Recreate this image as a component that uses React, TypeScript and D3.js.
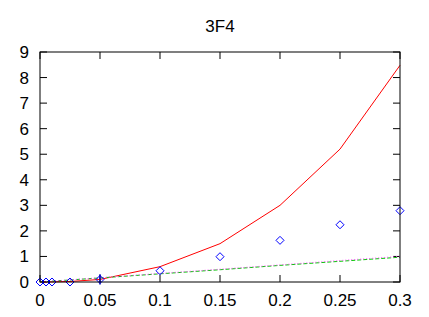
import * as d3 from "d3";
import { useEffect, useRef } from "react";

const title = "3F4";
const xs = [0, 0.005, 0.01, 0.025, 0.05, 0.1, 0.15, 0.2, 0.25, 0.3];
const redLine = [0, 0.002, 0.005, 0.02, 0.1, 0.6, 1.5, 3.0, 5.2, 8.48];
const greenLine = [0, 0.016, 0.032, 0.08, 0.16, 0.32, 0.48, 0.65, 0.81, 0.97];
const magentaLine = [0, 0.017, 0.034, 0.084, 0.168, 0.335, 0.5, 0.67, 0.84, 1.0];
const diamonds = [0, 0, 0, 0, 0.1, 0.44, 0.99, 1.63, 2.24, 2.79];
const xTicks = [0, 0.05, 0.1, 0.15, 0.2, 0.25, 0.3];
const yTicks = [0, 1, 2, 3, 4, 5, 6, 7, 8, 9];

const W = 429;
const H = 317;
const margin = { top: 52, right: 29, bottom: 35, left: 40 };

export default function App() {
  const ref = useRef<SVGSVGElement>(null);

  useEffect(() => {
    const svg = d3.select(ref.current);
    svg.selectAll("*").remove();

    const x = d3
      .scaleLinear()
      .domain([0, 0.3])
      .range([margin.left, W - margin.right]);
    const y = d3
      .scaleLinear()
      .domain([0, 9])
      .range([H - margin.bottom, margin.top]);

    const font = "Liberation Sans, Arial, sans-serif";
    const fs = 17;

    svg
      .append("text")
      .attr("x", (x(0) + x(0.3)) / 2)
      .attr("y", 32)
      .attr("text-anchor", "middle")
      .attr("font-family", font)
      .attr("font-size", fs)
      .text(title);

    const g = svg.append("g");
    const tickLen = 7;

    // tick marks on all four sides, pointing inward
    g.selectAll("line.xt")
      .data(xTicks)
      .join("line")
      .attr("class", "xt")
      .attr("x1", (d) => x(d))
      .attr("x2", (d) => x(d))
      .attr("y1", y(0))
      .attr("y2", y(0) - tickLen)
      .attr("stroke", "#000");
    g.selectAll("line.xt2")
      .data(xTicks)
      .join("line")
      .attr("class", "xt2")
      .attr("x1", (d) => x(d))
      .attr("x2", (d) => x(d))
      .attr("y1", y(9))
      .attr("y2", y(9) + tickLen)
      .attr("stroke", "#000");
    g.selectAll("line.yt")
      .data(yTicks)
      .join("line")
      .attr("class", "yt")
      .attr("x1", x(0))
      .attr("x2", x(0) + tickLen)
      .attr("y1", (d) => y(d))
      .attr("y2", (d) => y(d))
      .attr("stroke", "#000");
    g.selectAll("line.yt2")
      .data(yTicks)
      .join("line")
      .attr("class", "yt2")
      .attr("x1", x(0.3))
      .attr("x2", x(0.3) - tickLen)
      .attr("y1", (d) => y(d))
      .attr("y2", (d) => y(d))
      .attr("stroke", "#000");

    g.selectAll("text.xl")
      .data(xTicks)
      .join("text")
      .attr("class", "xl")
      .attr("x", (d) => x(d))
      .attr("y", y(0) + 24)
      .attr("text-anchor", "middle")
      .attr("font-family", font)
      .attr("font-size", fs)
      .text((d) => String(d));
    g.selectAll("text.yl")
      .data(yTicks)
      .join("text")
      .attr("class", "yl")
      .attr("x", x(0) - 11)
      .attr("y", (d) => y(d) + 6)
      .attr("text-anchor", "end")
      .attr("font-family", font)
      .attr("font-size", fs)
      .text((d) => String(d));

    const line = (vals: number[]) =>
      d3
        .line<number>()
        .x((_, i) => x(xs[i]))
        .y((d) => y(d))(vals);

    g.append("path")
      .attr("d", line(redLine))
      .attr("fill", "none")
      .attr("stroke", "#ff0000")
      .attr("stroke-width", 1);
    g.append("path")
      .attr("d", line(greenLine))
      .attr("fill", "none")
      .attr("stroke", "#00cc00")
      .attr("stroke-dasharray", "4,2")
      .attr("stroke-width", 1);
    g.append("path")
      .attr("d", line(magentaLine))
      .attr("fill", "none")
      .attr("stroke", "#ff44ff")
      .attr("stroke-dasharray", "1,2")
      .attr("stroke-width", 1);

    // small error bar at 0.05
    g.append("line")
      .attr("x1", x(0.05))
      .attr("x2", x(0.05))
      .attr("y1", y(-0.1))
      .attr("y2", y(0.3))
      .attr("stroke", "#0000aa")
      .attr("stroke-width", 1.5);

    const ds = 4;
    g.selectAll("path.dm")
      .data(diamonds)
      .join("path")
      .attr("class", "dm")
      .attr("d", (d, i) => {
        const cx = x(xs[i]);
        const cy = y(d);
        return `M${cx},${cy - ds}L${cx + ds},${cy}L${cx},${cy + ds}L${cx - ds},${cy}Z`;
      })
      .attr("fill", "none")
      .attr("stroke", "#0000ff")
      .attr("stroke-width", 1);

    g.append("rect")
      .attr("x", x(0))
      .attr("y", y(9))
      .attr("width", x(0.3) - x(0))
      .attr("height", y(0) - y(9))
      .attr("fill", "none")
      .attr("stroke", "#000")
      .attr("stroke-width", 1);
  }, []);

  return (
    <svg
      ref={ref}
      width={W}
      height={H}
      style={{ position: "absolute", left: 0, top: 0, background: "#fff" }}
    />
  );
}
